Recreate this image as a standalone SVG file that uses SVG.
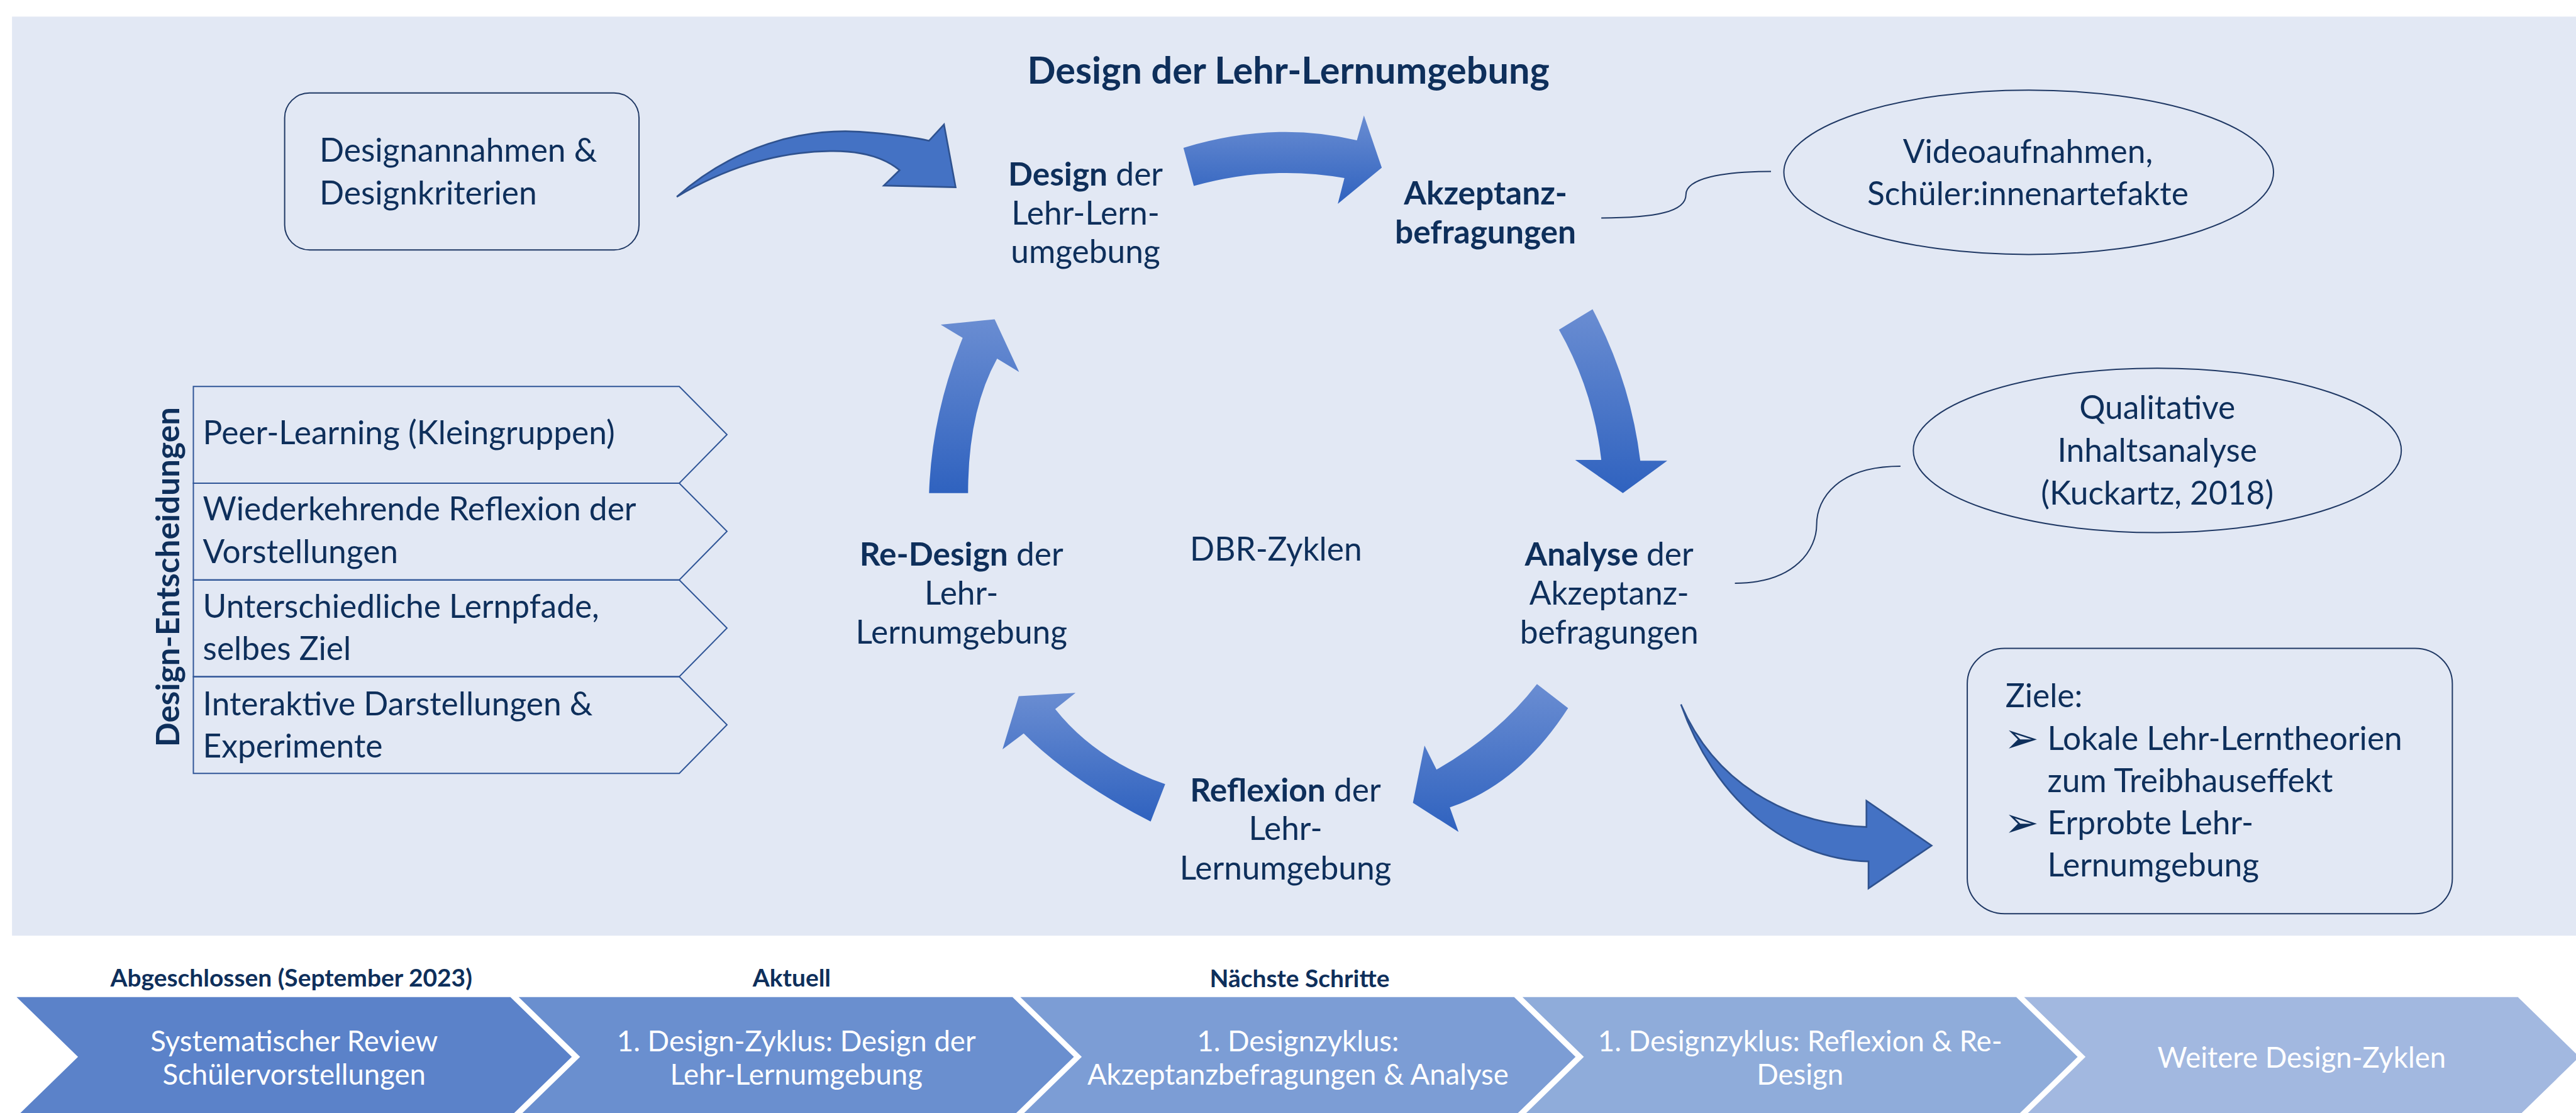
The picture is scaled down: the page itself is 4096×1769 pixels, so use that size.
<svg xmlns="http://www.w3.org/2000/svg" width="4096" height="1769" viewBox="0 0 4096 1769">
<defs>
<linearGradient id="cyc" x1="0" y1="0" x2="0" y2="1">
<stop offset="0" stop-color="#6A8DD2"/>
<stop offset="1" stop-color="#2F62BF"/>
</linearGradient>
<style>
.t{font-family:Lato,"Liberation Sans",sans-serif;fill:#0E2F5B;font-size:78px}
.b{font-weight:700}
.c{text-anchor:middle}
.ttl{font-size:90px}
.w{font-family:Lato,"Liberation Sans",sans-serif;fill:#FFFFFF;font-size:69px;text-anchor:middle}
.h{font-family:Lato,"Liberation Sans",sans-serif;fill:#0E2F5B;font-size:59px;font-weight:700;text-anchor:middle}
.frame{fill:none;stroke:#1F3864;stroke-width:3}
.pent{fill:none;stroke:#2F5597;stroke-width:3}
.cyc{fill:url(#cyc)}
.solid{fill:#4472C4;stroke:#2F528F;stroke-width:4}
.conn{fill:none;stroke:#1F3864;stroke-width:3}
.bul{font-family:"DejaVu Sans",sans-serif;fill:#0E2F5B;font-size:100px}
</style>
</defs>
<rect width="4096" height="1769" fill="#FFFFFF"/>
<g transform="scale(0.6597938)">
<rect x="29" y="40" width="6179" height="2214" fill="#E2E8F4"/>

<g id="connectors">
<path class="solid" d="M1631,474 C1760,360 1930,300 2105,320 Q2190,328 2239,339 L2275,300 L2303,451 L2130,447 L2168,410 Q2110,362 2000,364 C1860,366 1740,410 1631,474 Z"/>
<path class="cyc" d="M2852,356 Q3070,290 3270,338 L3287,278 L3330,404 L3224,491 L3240,429 Q3060,397 2877,448 Z"/>
<path class="cyc" d="M3757,794 L3838,745 Q3930,920 3953,1110 L4018,1110 L3911,1188 L3796,1108 L3859,1108 Q3840,940 3757,794 Z"/>
<path class="cyc" d="M3704,1648 L3779,1706 Q3660,1890 3494,1945 L3515,2004 L3405,1934 L3433,1796 L3462,1854 Q3610,1770 3704,1648 Z"/>
<path class="cyc" d="M2808,1889 L2773,1979 Q2580,1880 2467,1767 L2416,1805 L2455,1677 L2592,1669 L2543,1708 Q2640,1830 2808,1889 Z"/>
<path class="cyc" d="M2239,1188 L2333,1188 Q2333,990 2403,864 L2456,896 L2397,769 L2267,782 L2320,814 Q2245,1000 2239,1188 Z"/>
<path class="solid" d="M4051,1697 C4130,1880 4300,1985 4498,1992 L4498,1929 L4655,2037 L4503,2140 L4503,2075 C4300,2070 4130,1920 4051,1697 Z"/>
<path class="conn" d="M3859,525 C3990,525 4063,510 4063,469 C4063,430 4150,413 4268,413"/>
<path class="conn" d="M4181,1405 C4330,1405 4378,1320 4378,1264 C4378,1200 4430,1123 4580,1123"/>
</g>

<g id="title">
<text class="t b c ttl" x="3105" y="201">Design der Lehr-Lernumgebung</text>
</g>

<g id="designannahmen">
<rect class="frame" x="686" y="224" width="854" height="378" rx="60" ry="60"/>
<text class="t" x="770" y="390">Designannahmen &amp;</text>
<text class="t" x="770" y="492">Designkriterien</text>
</g>

<g id="design">
<text class="t c" x="2616" y="447"><tspan class="b">Design</tspan> der</text>
<text class="t c" x="2616" y="541">Lehr-Lern-</text>
<text class="t c" x="2616" y="634">umgebung</text>
</g>

<g id="akzeptanz">
<text class="t b c" x="3580" y="493">Akzeptanz-</text>
<text class="t b c" x="3580" y="586">befragungen</text>
</g>

<g id="videoaufnahmen">
<ellipse class="frame" cx="4889" cy="415" rx="590" ry="198"/>
<text class="t c" x="4887" y="393">Videoaufnahmen,</text>
<text class="t c" x="4887" y="494">Schüler:innenartefakte</text>
</g>

<g id="qualitative">
<ellipse class="frame" cx="5199" cy="1085" rx="588" ry="198"/>
<text class="t c" x="5199" y="1009">Qualitative</text>
<text class="t c" x="5199" y="1112">Inhaltsanalyse</text>
<text class="t c" x="5199" y="1215">(Kuckartz, 2018)</text>
</g>

<g id="redesign">
<text class="t c" x="2317" y="1363"><tspan class="b">Re-Design</tspan> der</text>
<text class="t c" x="2317" y="1457">Lehr-</text>
<text class="t c" x="2317" y="1551">Lernumgebung</text>
</g>

<g id="dbr">
<text class="t c" x="3075" y="1351">DBR-Zyklen</text>
</g>

<g id="analyse">
<text class="t c" x="3878" y="1363"><tspan class="b">Analyse</tspan> der</text>
<text class="t c" x="3878" y="1457">Akzeptanz-</text>
<text class="t c" x="3878" y="1551">befragungen</text>
</g>

<g id="reflexion">
<text class="t c" x="3098" y="1931"><tspan class="b">Reflexion</tspan> der</text>
<text class="t c" x="3098" y="2024">Lehr-</text>
<text class="t c" x="3098" y="2119">Lernumgebung</text>
</g>

<g id="ziele">
<rect class="frame" x="4741" y="1562" width="1169" height="639" rx="90" ry="85"/>
<text class="t" x="4833" y="1703">Ziele:</text>
<text class="bul" x="4830" y="1812">➢</text>
<text class="t" x="4934" y="1806">Lokale Lehr-Lerntheorien</text>
<text class="t" x="4934" y="1908">zum Treibhauseffekt</text>
<text class="bul" x="4830" y="2016">➢</text>
<text class="t" x="4934" y="2010">Erprobte Lehr-</text>
<text class="t" x="4934" y="2112">Lernumgebung</text>
</g>

<g id="design-entscheidungen">
<text class="t b c" transform="translate(432,1390) rotate(-90)" textLength="819" lengthAdjust="spacingAndGlyphs">Design-Entscheidungen</text>
</g>

<g id="peer-learning">
<polygon class="pent" points="466,931 1637,931 1752,1047 1637,1164 466,1164"/>
<text class="t" x="489" y="1070">Peer-Learning (Kleingruppen)</text>
</g>
<g id="reflexion-vorstellungen">
<polygon class="pent" points="466,1164 1637,1164 1752,1280 1637,1397 466,1397"/>
<text class="t" x="489" y="1253">Wiederkehrende Reflexion der</text>
<text class="t" x="489" y="1357">Vorstellungen</text>
</g>
<g id="lernpfade">
<polygon class="pent" points="466,1397 1637,1397 1752,1513 1637,1630 466,1630"/>
<text class="t" x="489" y="1488">Unterschiedliche Lernpfade,</text>
<text class="t" x="489" y="1590">selbes Ziel</text>
</g>
<g id="interaktive">
<polygon class="pent" points="466,1630 1637,1630 1752,1746 1637,1863 466,1863"/>
<text class="t" x="489" y="1723">Interaktive Darstellungen &amp;</text>
<text class="t" x="489" y="1825">Experimente</text>
</g>

<g id="timeline">
<g id="step1">
<polygon points="40,2402 1230,2402 1378,2546 1230,2690 40,2690 188,2546" fill="#5B82C9"/>
<text class="h" x="702" y="2377">Abgeschlossen (September 2023)</text>
<text class="w" x="709" y="2532">Systematischer Review</text>
<text class="w" x="709" y="2613">Schülervorstellungen</text>
</g>
<g id="step2">
<polygon points="1250,2402 2440,2402 2588,2546 2440,2690 1250,2690 1398,2546" fill="#6A8FCF"/>
<text class="h" x="1908" y="2376">Aktuell</text>
<text class="w" x="1919" y="2532">1. Design-Zyklus: Design der</text>
<text class="w" x="1919" y="2613">Lehr-Lernumgebung</text>
</g>
<g id="step3">
<polygon points="2459,2402 3649,2402 3797,2546 3649,2690 2459,2690 2607,2546" fill="#7C9DD5"/>
<text class="h" x="3132" y="2378">Nächste Schritte</text>
<text class="w" x="3128" y="2532">1. Designzyklus:</text>
<text class="w" x="3128" y="2613">Akzeptanzbefragungen &amp; Analyse</text>
</g>
<g id="step4">
<polygon points="3669,2402 4859,2402 5007,2546 4859,2690 3669,2690 3817,2546" fill="#8FACDA"/>
<text class="w" x="4338" y="2532">1. Designzyklus: Reflexion &amp; Re-</text>
<text class="w" x="4338" y="2613">Design</text>
</g>
<g id="step5">
<polygon points="4878,2402 6068,2402 6216,2546 6068,2690 4878,2690 5026,2546" fill="#A2B8E0"/>
<text class="w" x="5547" y="2572">Weitere Design-Zyklen</text>
</g>
</g>
</g>
</svg>
